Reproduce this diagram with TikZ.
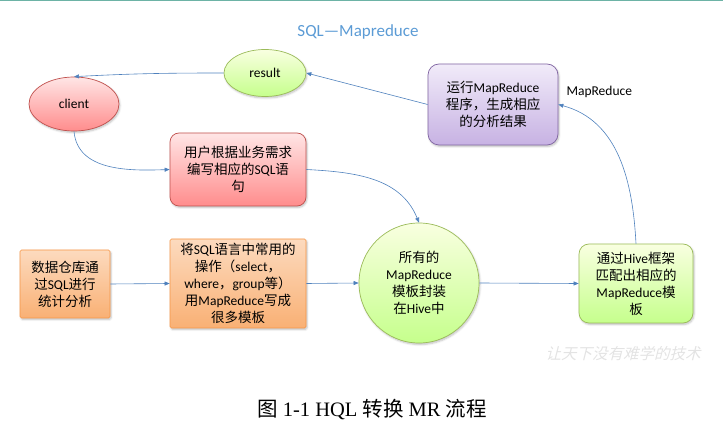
\documentclass[tikz,border=0pt]{standalone}
\usepackage{fontspec}
\setmainfont{Carlito}
\newfontfamily\cjk{Noto Sans CJK SC}
\newfontfamily\cjkwm[FakeSlant=0.25]{Noto Sans CJK SC}
\newfontfamily\capserif{Liberation Serif}
\usetikzlibrary{arrows.meta,shapes.geometric,shadows.blur}
\newcommand{\Z}[1]{{\cjk #1}}
\definecolor{arrblue}{HTML}{4F81BD}
\definecolor{titleblue}{HTML}{5B9BD5}
\definecolor{redline}{HTML}{C0504D}
\definecolor{greenline}{HTML}{9BBB59}
\definecolor{purpleline}{HTML}{8064A2}
\definecolor{purpletop}{HTML}{F1EBF9}
\definecolor{purplebot}{HTML}{C7B2E3}
\definecolor{orangeline}{HTML}{F79646}
\definecolor{topteal}{HTML}{6DB3A6}
\tikzset{
  txt/.style={font=\fontsize{13.5}{17}\selectfont, align=center, inner sep=1pt},
  shad/.style={blur shadow={shadow xshift=1pt, shadow yshift=-1.5pt, shadow opacity=25, shadow blur steps=5}},
  redfill/.style={draw=redline, line width=0.7pt, top color=red!10!white, bottom color=red!45!white},
  greenfill/.style={draw=greenline, line width=0.7pt, top color=green!20!yellow!12!white, bottom color=green!50!yellow!45!white},
  purplefill/.style={draw=purpleline, line width=0.7pt, top color=purpletop, bottom color=purplebot},
  orangefill/.style={draw=orangeline, line width=0.7pt, top color=orangeline!35!white, bottom color=orangeline!75!white},
  redell/.style={ellipse, redfill, shad, txt},
  greenell/.style={ellipse, greenfill, shad, txt},
  redbox/.style={rectangle, rounded corners=9pt, redfill, shad, txt},
  purplebox/.style={rectangle, rounded corners=11pt, purplefill, shad, txt},
  orangebox/.style={rectangle, rounded corners=1.5pt, orangefill, shad, txt},
  greenbox/.style={rectangle, rounded corners=10pt, greenfill, shad, txt},
  greencirc/.style={circle, greenfill, shad, txt},
  arr/.style={draw=arrblue, line width=0.6pt, -{Triangle[length=5pt,width=4pt]}},
}
\begin{document}
\begin{tikzpicture}[x=1pt,y=-1pt]
\useasboundingbox (0,0) rectangle (723,430);
\draw[topteal, line width=1.5pt] (0,0.5) -- (723,0.5);
\node[font=\fontsize{17}{20}\selectfont, text=titleblue] (title) at (358,32) {SQL—Mapreduce};

\node[redell, minimum width=90pt, minimum height=54pt] (client) at (74,104) {client};
\node[greenell, minimum width=82pt, minimum height=47pt] (result) at (265,73) {result};
\node[redbox, minimum width=136pt, minimum height=73pt] (user) at (238,169.5)
  {\Z{用户根据业务需求}\\ \Z{编写相应的}SQL\Z{语}\\ \Z{句}};
\node[purplebox, minimum width=130pt, minimum height=81pt] (run) at (493,104.5)
  {\Z{运行}MapReduce\\ \Z{程序，生成相应}\\ \Z{的分析结果}};
\node[orangebox, minimum width=90pt, minimum height=68pt] (dw) at (65,284)
  {\Z{数据仓库通}\\ \Z{过}SQL\Z{进行}\\ \Z{统计分析}};
\node[orangebox, minimum width=136pt, minimum height=89pt] (tmpl) at (238,283.5)
  {\Z{将}SQL\Z{语言中常用的}\\ \Z{操作（}select\Z{，}\\ where\Z{，}group\Z{等）}\\ \Z{用}MapReduce\Z{写成}\\ \Z{很多模板}};
\node[greencirc, minimum size=120pt] (hive) at (419,283)
  {\Z{所有的}\\ MapReduce\\ \Z{模板封装}\\ \Z{在}Hive\Z{中}};
\node[greenbox, minimum width=114pt, minimum height=79pt] (match) at (636,283.5)
  {\Z{通过}Hive\Z{框架}\\ \Z{匹配出相应的}\\ MapReduce\Z{模}\\ \Z{板}};

\node[font=\fontsize{13.5}{16}\selectfont, anchor=west] (mrlabel) at (563,92) {MapReduce};

\draw[arr] (result.west) to[out=180,in=3] (client.north);
\draw[arr] (run.west) -- (result.east);
\draw[arr] (client.south) to[out=-85,in=182] (user.west);
\draw[arr] (user.east) to[out=-3,in=112] (hive.north);
\draw[arr] (dw.east) -- (tmpl.west);
\draw[arr] (tmpl.east) -- (hive.west);
\draw[arr] (hive.east) -- (match.west);
\draw[arr] (match.north) to[out=93,in=-15] (run.east);

\node[font=\fontsize{15.5}{18}\selectfont\cjkwm, text=black!11] (wm) at (623,354) {让天下没有难学的技术};
\node[font=\fontsize{20.5}{24}\selectfont\capserif] (caption) at (372,410)
  {\Z{图} 1-1 HQL \Z{转换} MR \Z{流程}};
\end{tikzpicture}
\end{document}
